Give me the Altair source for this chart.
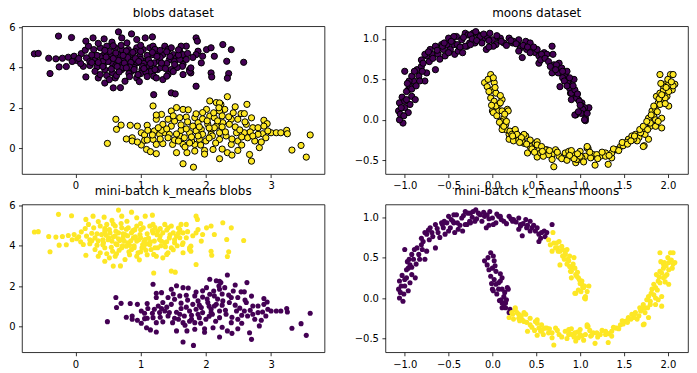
import altair as alt
import pandas as pd

PURPLE = "#440154"
YELLOW = "#fde725"

# ---------------- blobs: upper cluster (true label 0, k-means label 1) ----------------
blob_up_x = [-0.63, -0.57, -0.41, -0.39, -0.26, -0.06, -0.30, -0.20, -0.11, -0.25, -0.14, -0.02, 0.02, 0.09,
             0.15, 0.20, 0.16, 0.27, 0.16, 0.12, 0.22, 0.33, 0.44, 0.56, 0.66, 0.71, 0.86, 0.94, 1.07, 1.18,
             0.28, 0.38, 0.48, 0.61, 0.40, 0.53, 0.66, 0.76, 0.86, 0.99, 0.17, 0.30, 0.43, 0.56, 0.68, 0.81,
             0.94, 1.07, 0.45, 0.57, 0.71, 0.86, 1.02, 0.35, 0.45, 0.58, 0.69, 0.38, 0.61, 0.76, 0.94, 0.30,
             0.79, 0.71, 0.81, 0.94, 1.04, 0.51, 0.61, 0.73, 0.89, 1.14, 1.14, 0.98, 1.20, 1.47, 1.53, 1.85,
             1.19, 1.19, 1.21, 1.16, 1.20, 1.26, 1.29, 1.26, 1.37, 1.34, 1.42, 1.47, 1.37, 1.44, 1.50, 1.55,
             1.47, 1.34, 1.42, 1.60, 1.65, 1.70, 1.62, 1.65, 1.65, 1.75, 1.77, 1.85, 1.87, 1.88, 1.85, 1.93,
             1.95, 2.01, 2.08, 2.13, 2.08, 2.09, 2.26, 2.39, 2.32, 2.58, 2.35, 2.33, 1.24, 1.40, 1.75, 1.77,
             1.64, 0.50, 0.62, 0.72, 0.80, 0.90, 1.00, 1.10, 1.10, 1.30, 1.40, 1.52, 1.60, 0.42, 0.33, 0.22,
             0.63, 0.82, 1.00, 1.22, 1.31, 0.52, 0.91, 1.22, 1.00, 0.45, 1.56, 1.50, 0.66, 0.85, 1.05,
             0.25, 0.35, 0.47, 0.58, 0.64, 0.75, 0.83, 0.92, 1.03, 1.12, 1.18, 0.55, 0.67, 0.78, 0.96, 1.08,
             0.42, 0.88, 0.58, 0.70, 0.35, 1.00, 1.25, 1.32, 1.38, 1.45, 1.52, 1.58, 1.70, 1.72, 1.80, 1.58,
             0.48, 0.52, 0.83, 1.10, 0.25, 0.08, 0.05, -0.05, 0.62, 0.78, 1.30, 0.97, 0.73, 0.45, 1.15, 1.40,
             1.05, 0.90]
blob_up_y = [4.68, 4.70, 4.46, 3.70, 5.56, 5.49, 4.43, 4.46, 4.51, 4.03, 4.05, 4.56, 4.35, 4.69,
             4.86, 5.06, 5.31, 5.47, 3.53, 4.06, 4.10, 4.03, 5.42, 5.26, 5.77, 5.47, 5.67, 5.39, 5.47, 5.52,
             4.89, 4.98, 5.06, 4.98, 4.56, 4.64, 4.64, 4.56, 4.64, 4.56, 4.48, 4.39, 4.15, 4.23, 4.26, 4.15,
             4.23, 4.31, 3.90, 3.73, 3.90, 3.81, 3.90, 3.48, 3.23, 2.99, 3.00, 3.65, 3.48, 3.32, 3.48, 3.81,
             5.22, 4.89, 4.89, 4.98, 4.89, 4.39, 4.48, 4.39, 4.39, 4.98, 4.06, 3.30, 2.65, 2.74, 2.69, 3.07,
             5.06, 4.64, 4.23, 3.81, 3.57, 4.73, 4.31, 3.90, 5.06, 4.64, 4.89, 4.98, 4.15, 4.39, 4.64, 4.48,
             3.90, 3.40, 3.65, 4.81, 4.64, 5.06, 5.06, 4.15, 3.65, 3.90, 3.73, 5.47, 5.31, 4.81, 4.64, 4.23,
             4.56, 4.89, 4.98, 4.56, 3.73, 3.53, 5.14, 4.89, 4.31, 4.26, 3.70, 3.47, 3.48, 3.57, 3.81, 3.98,
             4.06, 4.30, 4.10, 4.00, 4.50, 4.00, 4.40, 4.60, 4.10, 4.50, 4.20, 4.30, 4.40, 4.30, 4.60, 4.30,
             3.60, 3.70, 3.70, 3.90, 4.00, 4.80, 4.80, 4.90, 5.10, 4.70, 4.00, 3.80, 4.35, 4.25, 4.20,
             4.62, 4.25, 4.52, 4.45, 4.05, 4.22, 4.02, 4.45, 4.05, 4.38, 4.75, 3.92, 3.78, 3.98, 3.65, 3.78,
             4.05, 4.75, 5.08, 5.10, 5.20, 4.80, 4.55, 4.22, 3.95, 4.55, 4.15, 4.62, 4.40, 4.70, 4.50, 4.88,
             3.60, 3.40, 3.55, 3.55, 4.25, 4.20, 4.45, 4.30, 4.72, 4.82, 4.85, 4.30, 4.60, 4.85, 4.20, 4.78,
             3.95, 3.90]

# ---------------- blobs: lower cluster (true label 1, k-means label 0) ----------------
blob_lo_x = [1.19, 0.62, 0.63, 0.70, 0.84, 0.95, 1.10, 0.49, 0.87, 0.87, 1.01, 1.06, 1.11, 1.21, 1.01,
             1.09, 1.15, 1.24, 1.06, 1.19, 1.34, 1.24, 1.24, 1.32, 1.24, 1.42, 1.47, 1.55, 1.65, 1.34, 1.47,
             1.52, 1.60, 1.70, 1.83, 1.29, 1.37, 1.44, 1.49, 1.52, 1.60, 1.62, 1.67, 1.75, 1.80, 1.88, 1.93,
             2.03, 2.06, 2.01, 2.06, 1.95, 1.65, 1.81, 1.71, 1.83, 1.83, 1.98, 2.11, 1.55, 1.65, 1.78, 1.90,
             2.00, 2.08, 1.95, 1.42, 1.32, 1.27, 2.33, 2.63, 2.16, 2.23, 2.29, 2.21, 2.54, 2.59, 2.39, 2.49,
             2.13, 2.26, 2.36, 2.16, 2.62, 2.72, 2.80, 2.89, 2.94, 2.89, 3.00, 3.08, 3.15, 3.24, 3.25, 3.60,
             3.32, 3.46, 3.54, 2.08, 2.21, 2.21, 2.31, 2.39, 2.49, 2.47, 2.59, 2.64, 2.75, 2.82, 2.67, 2.70,
             2.49, 2.33, 2.87, 2.92, 2.80, 2.13, 2.21, 2.21,
             1.55, 1.62, 1.70, 1.72, 1.78, 1.85, 1.90, 1.95, 2.05, 2.10, 2.15, 2.18, 2.25, 2.30, 2.35, 2.40,
             2.45, 2.52, 2.55, 2.60, 2.68, 2.72, 1.58, 1.68, 1.75, 1.88, 1.92, 2.05, 2.12, 2.20, 2.25, 2.42,
             2.02, 1.85, 1.73, 1.50, 1.40, 1.30, 1.18, 1.10, 0.95, 0.78, 1.98, 2.25, 2.40, 2.55, 2.85, 2.95,
             2.70, 2.45]
blob_lo_y = [2.09, 1.43, 0.93, 1.14, 1.13, 1.09, 1.13, 0.23, 0.51, 0.35, 0.76, 0.65, 0.88, 0.85, 0.15,
             -0.07, -0.18, -0.28, 0.38, 0.43, 0.22, 0.18, 1.43, 1.67, 1.64, 1.43, 1.84, 2.01, 1.92, 1.18, 1.09,
             1.34, 1.51, 1.54, 1.51, 0.68, 0.76, 0.68, 0.18, 0.40, 0.60, 0.88, 0.51, 0.76, 1.09, 1.26, 0.93,
             1.18, 1.59, 1.92, 2.34, 1.76, -0.78, -0.95, -0.23, -0.15, 0.18, -0.12, -0.07, -0.23, 0.18, 0.35, 0.43,
             0.35, 0.85, 0.68, 0.51, 0.88, 1.01, 2.55, 2.17, 2.26, 2.17, 1.92, 1.84, 1.71, 1.71, 1.43, 1.43,
             1.51, 1.26, 1.18, 1.09, 1.18, 1.01, 1.01, 1.38, 1.21, 1.09, 0.76, 0.76, 0.76, 0.88, 0.71, 0.65,
             -0.10, 0.13, -0.45, 0.68, -0.53, 0.43, 0.60, 0.18, 0.35, 0.76, 0.76, 0.51, 0.35, 0.02, -0.32, -0.65,
             -0.12, -0.23, 0.71, 0.51, 0.68, 1.01, 0.76, 2.24,
             0.70, 1.15, 0.95, 1.30, 0.55, 0.85, 1.05, 1.45, 1.00, 0.60, 0.25, 1.35, 1.05, 0.80, 1.55, 0.45,
             1.05, 0.90, 0.55, 1.30, 0.80, 0.60, 0.35, 0.05, 0.25, 0.60, 0.15, 0.50, 1.75, 2.00, 1.60, 1.75,
             1.35, 1.70, 1.90, 1.60, 0.95, 0.45, 0.65, 0.40, 0.30, 0.45, -0.30, -0.05, -0.35, 0.15, 0.30, 0.85,
             1.50, 2.05]

# ---------------- moons: upper moon (true label 0) ----------------
# k-means label 0
moon_up_a_x = [-1.02, -1.06, -1.07, -1.06, -1.03, -1.05, -1.00, -1.00, -0.96, -0.94, -0.92, -0.96, -0.88,
               -0.98, -0.94, -0.90, -0.95, -0.92, -1.00, -0.84, -0.86, -0.81, -0.75, -0.77, -0.83, -0.81,
               -0.75, -0.69, -0.65, -0.71, -0.62, -0.56, -0.54, -0.65, -0.58, -0.52, -0.48, -0.43, -0.39,
               -0.45, -0.50, -0.41, -0.35, -0.29, -0.26, -0.20, -0.31, -0.28, -0.22, -0.16, -0.09, -0.07,
               -0.77, -0.73, -0.50, -0.57, -0.44, -0.44, -0.34, -0.31, -0.25, -0.25, -0.19, -0.14, -0.06,
               0.00, 0.04, 0.07, 0.13, 0.19, 0.23, 0.30, 0.32, 0.38, 0.43, 0.45, 0.34, 0.49, 0.53, 0.53,
               0.59, 0.62, 0.68, -0.03, 0.01, -0.04, 0.09, 0.24, 0.32, 0.30, 0.39, 0.43, 0.51, 0.56,
               -1.04, -1.01, -0.98, -0.97, -0.92, -0.89, -0.87, -0.80, -0.79, -0.72, -0.68, -0.63, -0.60,
               -0.55, -0.47, -0.40, -0.37, -0.33, -0.23, -0.18, -0.12, -0.10, -0.04, 0.05, 0.10, 0.16, 0.21,
               0.27, 0.35, 0.40, 0.47, 0.55, 0.60]
moon_up_a_y = [-0.04, 0.00, 0.11, 0.21, 0.28, 0.07, 0.23, 0.15, 0.09, 0.19, 0.29, 0.37, 0.25,
               0.35, 0.41, 0.48, 0.48, 0.54, 0.60, 0.54, 0.62, 0.66, 0.58, 0.48, 0.48, 0.74,
               0.79, 0.81, 0.62, 0.87, 0.81, 0.87, 0.79, 0.91, 0.93, 0.93, 0.87, 0.81, 0.85,
               0.95, 1.01, 1.03, 0.99, 0.91, 0.95, 0.95, 1.07, 1.05, 1.07, 1.05, 1.01, 0.87,
               0.81, 0.84, 0.83, 0.91, 0.93, 1.03, 0.83, 0.91, 0.93, 1.05, 1.09, 1.03, 1.03,
               0.99, 0.93, 1.01, 0.95, 1.01, 0.95, 0.99, 0.91, 0.97, 0.95, 0.87, 0.77, 0.83, 0.79, 0.70,
               0.83, 0.81, 0.91, 1.07, 0.91, 0.98, 1.01, 0.97, 0.89, 0.85, 0.87, 0.83, 0.87, 0.81,
               0.15, 0.05, 0.25, 0.45, 0.38, 0.60, 0.42, 0.60, 0.70, 0.72, 0.76, 0.86, 0.75,
               0.95, 0.97, 0.93, 0.90, 1.02, 1.00, 0.98, 0.95, 1.06, 0.90, 1.04, 0.97, 0.92, 0.98,
               0.94, 0.92, 0.90, 0.90, 0.74, 0.76]
# k-means label 1
moon_up_b_x = [0.64, 0.70, 0.76, 0.74, 0.68, 0.77, 0.83, 0.77, 0.87, 0.91, 0.89, 0.93, 0.95, 0.98, 1.02,
               1.04, 1.10, 0.95, 1.06, 1.06, 0.69, 0.73, 0.75, 0.79, 0.83, 0.85, 0.86, 0.88, 0.90, 0.94,
               0.90, 0.96, 0.99, 1.02, 1.05, 0.94, 1.05, 1.03,
               0.66, 0.72, 0.80, 0.82, 0.85, 0.92, 0.97, 1.00, 1.01, 0.98, 0.88, 0.80, 1.08]
moon_up_b_y = [0.72, 0.68, 0.70, 0.62, 0.58, 0.58, 0.54, 0.41, 0.46, 0.39, 0.33, 0.50, 0.29, 0.25, 0.21,
               0.13, 0.15, 0.06, 0.02, -0.01, 0.81, 0.68, 0.58, 0.64, 0.56, 0.60, 0.48, 0.39, 0.33, 0.37,
               0.25, 0.27, 0.23, 0.17, 0.15, 0.06, 0.00, 0.13,
               0.66, 0.62, 0.52, 0.48, 0.42, 0.42, 0.32, 0.18, 0.08, 0.10, 0.52, 0.60, 0.08]

# ---------------- moons: lower moon (true label 1) ----------------
# k-means label 0
moon_lo_a_x = [-0.02, -0.09, -0.06, 0.02, 0.00, -0.02, 0.02, 0.00, 0.11, 0.07, 0.07, 0.13, 0.17, 0.11,
               0.15, 0.19, 0.04, 0.09, 0.01, 0.11, 0.18, 0.10, 0.11, 0.15, 0.20,
               -0.05, 0.01, -0.04, 0.04, -0.01, 0.05, 0.08, 0.13, 0.03, 0.09, 0.14, 0.16]
moon_lo_a_y = [0.56, 0.46, 0.41, 0.46, 0.37, 0.27, 0.23, 0.11, 0.25, 0.19, 0.11, 0.02, 0.13, -0.06,
               -0.12, -0.18, 0.17, 0.21, 0.09, 0.11, 0.11, -0.02, -0.12, -0.06, -0.14,
               0.50, 0.52, 0.35, 0.33, 0.18, 0.05, -0.03, -0.08, 0.40, 0.30, 0.07, -0.02]
# k-means label 1
moon_lo_b_x = [0.26, 0.30, 0.19, 0.24, 0.36, 0.38, 0.43, 0.49, 0.53, 0.51, 0.40, 0.51, 0.62, 0.68, 0.72,
               0.68, 0.70, 0.76, 0.83, 0.87, 0.91, 0.95, 0.98, 1.00, 1.09, 1.06, 1.13, 1.17, 1.15, 1.23,
               1.29, 1.32, 1.36, 1.40, 1.46, 1.51, 1.55, 1.59, 1.63, 1.67, 1.70, 1.73, 1.74, 1.80, 1.84,
               1.82, 1.86, 1.89, 1.87, 1.91, 1.95, 1.95, 1.99, 1.91, 2.03, 2.06, 1.96, 2.08, 2.01, 2.05,
               1.78, 1.86, 1.80, 0.26, 0.28, 0.36, 0.34, 0.43, 0.51, 0.55, 0.60, 0.64, 0.87, 0.96, 1.02,
               1.08, 0.94, 1.95, 2.06, 2.01, 1.97, 1.91, 2.01, 1.93, 1.86, 1.93, 1.78, 1.74, 1.69, 1.65,
               1.53, 1.49, 1.42, 1.36, 1.29, 1.19, 1.12, 1.08, 1.72, 1.61,
               0.22, 0.30, 0.33, 0.39, 0.45, 0.48, 0.56, 0.58, 0.65, 0.74, 0.79, 0.85, 0.90, 0.93, 1.00,
               1.04, 1.11, 1.20, 1.25, 1.33, 1.38, 1.44, 1.48, 1.54, 1.58, 1.62, 1.68, 1.72, 1.77, 1.76,
               1.81, 1.84, 1.88, 1.90, 1.93, 1.92, 1.98, 2.00, 2.04, 1.97, 1.89, 0.97, 0.88, 0.57, 0.31,
               0.23]
moon_lo_b_y = [-0.14, -0.20, -0.24, -0.26, -0.29, -0.20, -0.33, -0.29, -0.37, -0.27, -0.41, -0.46, -0.37,
               -0.43, -0.37, -0.49, -0.58, -0.45, -0.41, -0.39, -0.45, -0.53, -0.49, -0.39, -0.35, -0.45,
               -0.46, -0.56, -0.43, -0.45, -0.41, -0.55, -0.47, -0.37, -0.33, -0.29, -0.24, -0.20, -0.18,
               -0.22, -0.14, -0.32, -0.12, -0.08, 0.04, 0.11, 0.13, 0.21, 0.29, 0.33, 0.25, 0.37, 0.29,
               0.56, 0.56, 0.56, 0.44, 0.44, 0.44, 0.37, 0.02, 0.00, -0.04, -0.12, -0.18, -0.18, -0.27,
               -0.25, -0.31, -0.41, -0.37, -0.43, -0.45, -0.49, -0.47, -0.35, -0.43, 0.42, 0.42, 0.35,
               0.27, 0.19, 0.17, 0.02, -0.08, -0.10, -0.24, -0.18, -0.16, -0.26, -0.28, -0.32, -0.37,
               -0.41, -0.45, -0.43, -0.47, -0.33, -0.33, -0.24,
               -0.18, -0.25, -0.22, -0.30, -0.36, -0.40, -0.33, -0.45, -0.38, -0.40, -0.48, -0.50, -0.38,
               -0.48, -0.45, -0.52, -0.40, -0.48, -0.40, -0.44, -0.36, -0.38, -0.28, -0.30, -0.26, -0.20,
               -0.12, -0.08, -0.12, -0.02, 0.06, 0.17, 0.10, 0.26, 0.31, 0.45, 0.40, 0.50, 0.47, 0.20,
               -0.02, -0.42, -0.44, -0.39, -0.28, -0.20]


def make_df(groups):
    rows = []
    for xs, ys, truth, km in groups:
        for x, y in zip(xs, ys):
            rows.append({"x": x, "y": y, "truth": truth, "km": km})
    return pd.DataFrame(rows)


blobs = make_df([(blob_up_x, blob_up_y, 0, 1), (blob_lo_x, blob_lo_y, 1, 0)])
moons = make_df([(moon_up_a_x, moon_up_a_y, 0, 0), (moon_up_b_x, moon_up_b_y, 0, 1),
                 (moon_lo_a_x, moon_lo_a_y, 1, 0), (moon_lo_b_x, moon_lo_b_y, 1, 1)])

BLOB_X = [-0.82, 3.82]
BLOB_Y = [-1.29, 6.05]
MOON_X = [-1.22, 2.23]
MOON_Y = [-0.67, 1.157]


def panel(df, field, title, xdom, ydom, xt, yt, fmt, edge, toff):
    if edge:
        base = alt.Chart(df).mark_circle(size=39, stroke="black", strokeWidth=1, opacity=1)
    else:
        base = alt.Chart(df).mark_circle(size=26, opacity=1)
    return base.encode(
        x=alt.X("x:Q", scale=alt.Scale(domain=xdom, nice=False, zero=False),
                axis=alt.Axis(values=xt, format=fmt, title=None)),
        y=alt.Y("y:Q", scale=alt.Scale(domain=ydom, nice=False, zero=False),
                axis=alt.Axis(values=yt, format=fmt, title=None)),
        color=alt.Color(f"{field}:N", scale=alt.Scale(domain=[0, 1], range=[PURPLE, YELLOW]), legend=None),
    ).properties(width=303, height=148, title=alt.TitleParams(title, offset=toff))


BX = [0, 1, 2, 3]
BY = [0, 2, 4, 6]
MX = [-1.0, -0.5, 0.0, 0.5, 1.0, 1.5, 2.0]
MY = [-0.5, 0.0, 0.5, 1.0]

p1 = panel(blobs, "truth", "blobs dataset", BLOB_X, BLOB_Y, BX, BY, "d", True, 2)
p2 = panel(moons, "truth", "moons dataset", MOON_X, MOON_Y, MX, MY, ".1f", True, 6)
p3 = panel(blobs, "km", "mini-batch k_means blobs", BLOB_X, BLOB_Y, BX, BY, "d", False, 2)
p4 = panel(moons, "km", "mini-batch k_means moons", MOON_X, MOON_Y, MX, MY, ".1f", False, 6)

chart = alt.concat(
    p1, p2, p3, p4, columns=2,
    spacing={"row": 30.5, "column": 61}, bounds="flush",
).properties(
    padding={"left": 0, "top": -2, "right": 0, "bottom": 0}
).configure_view(
    stroke="black", strokeWidth=0.8
).configure_axis(
    labelFont="DejaVu Sans", labelFontSize=10, labelColor="black", tickColor="black",
    tickWidth=0.8, tickSize=3.5, labelPadding=3.5, domain=False, grid=False,
    labelFlush=False, labelOverlap=False
).configure_title(
    font="DejaVu Sans", fontSize=12, fontWeight="normal", color="black",
    baseline="alphabetic", anchor="middle", frame="group"
)

chart.save("out.html", embed_options={"renderer": "svg", "actions": False})
